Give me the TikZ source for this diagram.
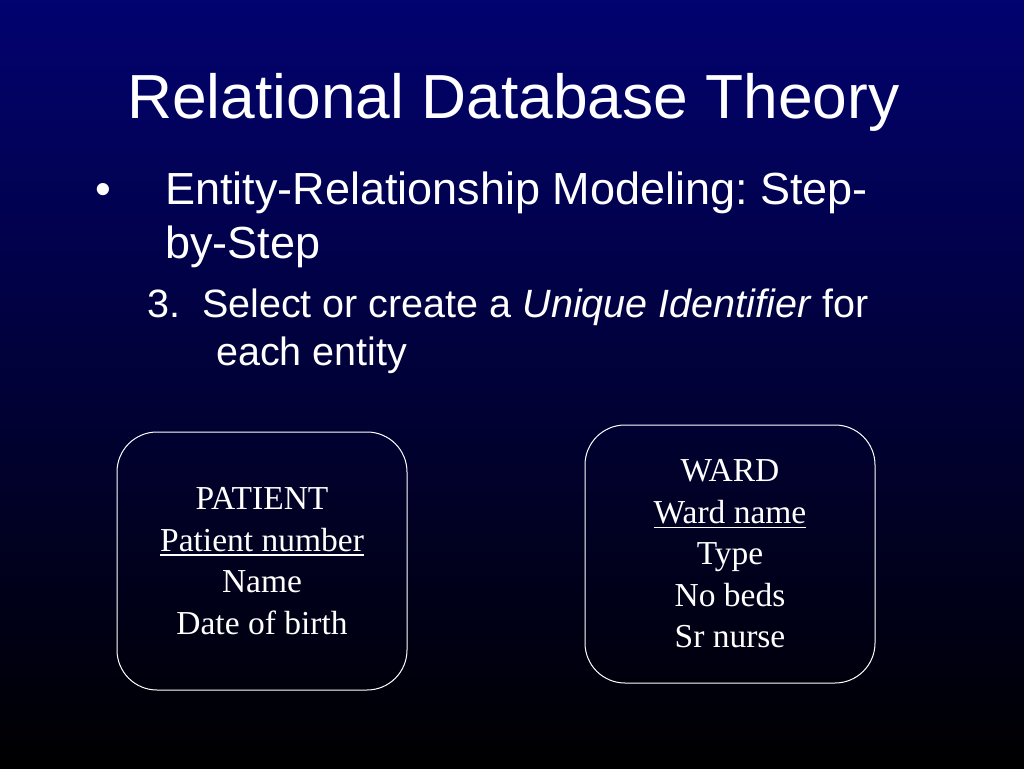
\documentclass[tikz,border=0pt]{standalone}
\usepackage{fontspec}
\setmainfont{Liberation Serif}
\setsansfont{Liberation Sans}
\definecolor{slidetop}{RGB}{2,2,112}
\newcommand{\keyattr}[1]{\setbox0\hbox{#1}\rlap{\rule[-4.5pt]{\wd0}{1.3pt}}\box0}
\frenchspacing
\begin{document}
\begin{tikzpicture}[x=1pt, y=-1pt,
    slidetext/.style={text=white, inner sep=0pt, anchor=base west, font=\sffamily},
    entity/.style={draw=white, line width=1pt, rounded corners=40pt, text=white,
        minimum width=290pt, minimum height=258pt, inner sep=0pt, align=center,
        font=\fontsize{33.5}{41.5}\selectfont}]
    \useasboundingbox (0,0) rectangle (1024,768);
    \shade[top color=slidetop, bottom color=black] (0,0) rectangle (1024,768);

    %%%%%%%%%% Testo %%%%%%%%%%
    \node[slidetext, font=\sffamily\fontsize{62.3}{70}\selectfont] (title) at (127,118) {Relational Database Theory};
    \node[slidetext, font=\sffamily\fontsize{45}{50}\selectfont] (dot) at (95,204) {\textbullet};
    \node[slidetext, font=\sffamily\fontsize{45}{50}\selectfont] (step1) at (165,204) {Entity-Relationship Modeling: Step-};
    \node[slidetext, font=\sffamily\fontsize{45}{50}\selectfont] (step2) at (165,258) {by-Step};
    \node[slidetext, font=\sffamily\fontsize{39.5}{44}\selectfont] (sub1) at (147,317) {3.\ \ Select or create a \textit{Unique Identifier} for};
    \node[slidetext, font=\sffamily\fontsize{39.5}{44}\selectfont] (sub2) at (216,365) {each entity};

    %%%%%%%%%% Entita %%%%%%%%%%
    \node[entity] (patient) at (262,561) {PATIENT\\\keyattr{Patient number}\\Name\\Date of birth};
    \node[entity] (ward) at (730,554) {WARD\\\keyattr{Ward name}\\Type\\No beds\\Sr nurse};
\end{tikzpicture}
\end{document}
